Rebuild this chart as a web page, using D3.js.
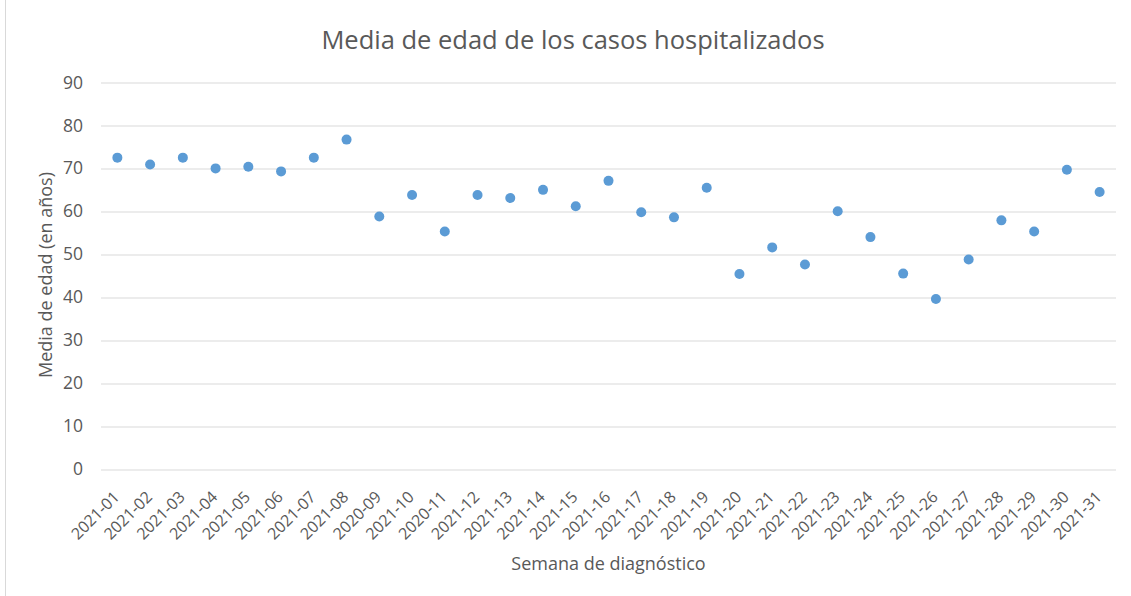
<!DOCTYPE html>
<html>
<head>
<meta charset="utf-8">
<script src="https://cdn.jsdelivr.net/npm/d3@7"></script>
<style>
  body { margin: 0; background: #fff; }
  text { font-family: "Open Sans", "Noto Sans", sans-serif; fill: #595959; }
</style>
</head>
<body>
<svg id="chart"></svg>
<script>
const semanas = ["2021-01", "2021-02", "2021-03", "2021-04", "2021-05", "2021-06", "2021-07", "2021-08",
    "2020-09", "2021-10", "2020-11", "2021-12", "2021-13", "2021-14", "2021-15", "2021-16",
    "2021-17", "2021-18", "2021-19", "2021-20", "2021-21", "2021-22", "2021-23", "2021-24",
    "2021-25", "2021-26", "2021-27", "2021-28", "2021-29", "2021-30", "2021-31"];
const mediaEdad = [72.5, 70.9, 72.5, 70.0, 70.4, 69.3, 72.5, 76.7,
    58.8, 63.8, 55.3, 63.8, 63.1, 65.0, 61.2, 67.1,
    59.8, 58.6, 65.5, 45.4, 51.6, 47.6, 60.0, 54.0,
    45.5, 39.6, 48.8, 57.9, 55.3, 69.7, 64.5];
const yTicks = [0, 10, 20, 30, 40, 50, 60, 70, 80, 90];

const W = 1131, H = 596;
const margin = { top: 82.5, right: 15, bottom: 127, left: 101 };
const width = W - margin.left - margin.right,
    height = H - margin.top - margin.bottom;

const svg = d3.select("#chart").attr("width", W).attr("height", H);

// borde del área del gráfico
svg.append("line")
    .attr("x1", 5.5).attr("x2", 5.5).attr("y1", 0).attr("y2", H)
    .attr("stroke", "#d9d9d9");

const g = svg.append("g").attr("transform", `translate(${margin.left},${margin.top})`);

const x = d3.scaleBand().domain(semanas).range([0, width]);
const y = d3.scaleLinear().domain([0, 90]).range([height, 0]);

// grid
g.append("g")
    .selectAll("line")
    .data(yTicks)
    .join("line")
    .attr("x1", 0).attr("x2", width)
    .attr("y1", d => Math.round(y(d)) + 0.5)
    .attr("y2", d => Math.round(y(d)) + 0.5)
    .attr("stroke", "#d9d9d9")
    .attr("stroke-width", 1);

// eje y
const gy = g.append("g")
    .call(d3.axisLeft(y).tickValues(yTicks).tickSize(0).tickPadding(18));
gy.select(".domain").remove();
gy.selectAll("text")
    .attr("font-size", "17.5px")
    .style("font-family", "'Open Sans', sans-serif")
    .attr("fill", "#595959");

// eje x
const gx = g.append("g")
    .attr("transform", `translate(0,${height})`)
    .call(d3.axisBottom(x).tickSize(0));
gx.select(".domain").remove();
gx.selectAll("text")
    .attr("font-size", "16px")
    .style("font-family", "'Open Sans', sans-serif")
    .attr("fill", "#595959")
    .style("text-anchor", "end")
    .attr("y", 0)
    .attr("dy", 0)
    .attr("transform", "translate(3,29) rotate(-45)");

// puntos
g.append("g")
    .selectAll("circle")
    .data(mediaEdad)
    .join("circle")
    .attr("cx", (d, i) => x(semanas[i]) + x.bandwidth() / 2)
    .attr("cy", d => y(d))
    .attr("r", 5)
    .attr("fill", "#5b9bd5");

// títulos
svg.append("text")
    .attr("x", 573).attr("y", 49)
    .attr("text-anchor", "middle")
    .attr("font-size", "25.5px")
    .text("Media de edad de los casos hospitalizados");

svg.append("text")
    .attr("transform", `translate(52,275) rotate(-90)`)
    .attr("text-anchor", "middle")
    .attr("font-size", "18px")
    .text("Media de edad (en años)");

svg.append("text")
    .attr("x", margin.left + width / 2).attr("y", 570)
    .attr("text-anchor", "middle")
    .attr("font-size", "18px")
    .text("Semana de diagnóstico");
</script>
</body>
</html>
